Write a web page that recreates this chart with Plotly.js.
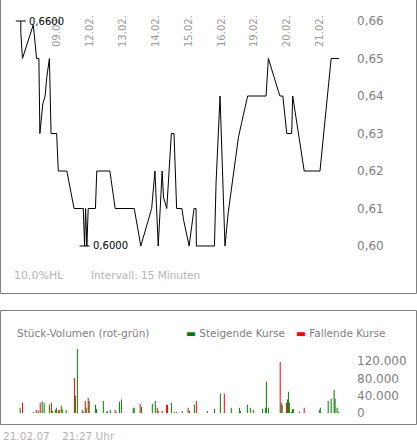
<!DOCTYPE html>
<html>
<head>
<meta charset="utf-8">
<script src="https://cdn.plot.ly/plotly-3.0.1.min.js"></script>
<style>
  html, body { margin: 0; padding: 0; background: #fff; }
  #chart { width: 417px; height: 443px; }
</style>
</head>
<body>
<div id="chart"></div>
<script>
// ---- data (x = trading day index, 0 = 08.02.) ----
const dayTicks = [1, 2, 3, 4, 5, 6, 7, 8, 9];
const dayLabels = ['09.02.', '12.02.', '13.02.', '14.02.', '15.02.', '16.02.', '19.02.', '20.02.', '21.02.'];

const priceT = [-0.10, -0.10, -0.05, 0.28, 0.38, 0.45, 0.48, 0.51, 0.57, 0.64, 0.69, 0.77, 0.79, 0.82, 0.99,
  1.04, 1.30, 1.52, 1.80, 1.84, 1.87, 1.91, 1.95, 2.17, 2.21, 2.61, 2.77, 3.35, 3.55, 3.88, 3.98, 4.08,
  4.20, 4.24, 4.34, 4.48, 4.56, 4.64, 4.80, 4.85, 5.02, 5.17, 5.23, 5.24, 5.79, 5.84, 5.96, 5.98, 6.06,
  6.11, 6.21, 6.36, 6.52, 6.62, 6.80, 7.36, 7.43, 7.78, 7.87, 7.99, 8.14, 8.17, 8.52, 9.00, 9.34, 9.58];
const priceV = [0.660, 0.657, 0.650, 0.659, 0.650, 0.650, 0.630, 0.633, 0.638, 0.640, 0.645, 0.650, 0.640, 0.630, 0.630,
  0.620, 0.620, 0.610, 0.610, 0.600, 0.610, 0.600, 0.610, 0.610, 0.620, 0.620, 0.610, 0.610, 0.600, 0.610, 0.620, 0.600,
  0.620, 0.613, 0.610, 0.630, 0.630, 0.610, 0.610, 0.607, 0.600, 0.610, 0.610, 0.600, 0.600, 0.617, 0.640, 0.635, 0.615,
  0.600, 0.609, 0.619, 0.629, 0.633, 0.640, 0.640, 0.650, 0.640, 0.640, 0.630, 0.630, 0.640, 0.620, 0.620, 0.650, 0.650];

const priceTicks = [0.60, 0.61, 0.62, 0.63, 0.64, 0.65, 0.66];

// rising (green) volume bars
const upT = [-0.12, 0.28, 0.43, 0.55, 0.61, 0.77, 0.86, 0.95, 0.98, 1.13, 1.16, 1.28, 1.56, 1.62, 1.77, 1.80,
  1.89, 1.98, 2.17, 2.20, 2.41, 2.50, 2.53, 2.62, 2.80, 2.90, 2.96, 3.32, 3.35, 3.57, 3.90, 3.99, 4.20, 4.48,
  4.57, 4.81, 5.03, 5.18, 5.57, 5.79, 5.97, 6.30, 6.55, 6.58, 6.79, 6.88, 6.97, 7.25, 7.34, 7.37, 7.43, 7.82,
  7.85, 8.01, 8.04, 8.07, 8.13, 8.16, 8.19, 8.98, 9.01, 9.25, 9.34, 9.43, 9.46, 9.52, 9.56];
const upVol = [12000, 2500, 5500, 27000, 23500, 19000, 4500, 7000, 12000, 16500, 9500, 7000, 40000, 148000, 7000, 2500,
  12000, 28000, 19000, 9500, 28000, 2500, 4500, 7000, 2500, 26000, 31000, 12000, 12000, 14000, 21000, 28000, 4500, 23500,
  2500, 4500, 4500, 19000, 4500, 9500, 45000, 12000, 12000, 4500, 19000, 12000, 7000, 9500, 12000, 73000, 12000, 23500,
  19000, 31000, 49000, 23500, 2500, 9500, 9500, 7000, 12000, 28000, 33000, 54000, 33000, 12000, 2500];

// falling (red) volume bars
const downT = [-0.05, 0.37, 0.49, 0.83, 1.04, 1.07, 1.53, 1.86, 1.95, 2.77, 3.53, 4.05, 4.08, 4.33, 4.36, 4.63,
  4.99, 5.24, 6.09, 7.79, 7.98, 8.37, 8.52];
const downVol = [23500, 7000, 23500, 23500, 7000, 7000, 81000, 28000, 35000, 7000, 21000, 12000, 4500, 19000, 19000, 2500,
  12000, 28000, 45000, 118000, 23500, 2500, 12000];

const volTicks = [0, 40000, 80000, 120000];

// ---- geometry helpers (pixel -> paper) ----
const W = 417, H = 443;
const px = x => x / W;
const py = y => 1 - y / H;

const FONT = 'DejaVu Sans, Verdana, sans-serif';
const dayWidth = 32.875; // px per trading day
const xRange = [(10 - 24.1) / dayWidth, (350 - 24.1) / dayWidth];

// high / low markers
const hi = Math.max(...priceV), lo = Math.min(...priceV);
const hiT = priceT[priceV.indexOf(hi)], loT = priceT[priceV.indexOf(lo)];
const tickHalf = 5 / dayWidth;

const traces = [
  {
    x: priceT, y: priceV, type: 'scatter', mode: 'lines',
    line: { color: '#000', width: 1 },
    xaxis: 'x', yaxis: 'y', hoverinfo: 'skip'
  },
  {
    x: upT, y: upVol, type: 'bar', name: 'Steigende Kurse',
    width: upT.map(() => 1 / dayWidth),
    marker: { color: '#008000', line: { width: 0 } },
    xaxis: 'x2', yaxis: 'y2', hoverinfo: 'skip'
  },
  {
    x: downT, y: downVol, type: 'bar', name: 'Fallende Kurse',
    width: downT.map(() => 1 / dayWidth),
    marker: { color: '#ff0000', line: { width: 0 } },
    xaxis: 'x2', yaxis: 'y2', hoverinfo: 'skip'
  }
];

const txt = (text, x, y, size, color, extra) => Object.assign({
  text: text, xref: 'paper', yref: 'paper', x: x, y: y,
  xanchor: 'left', yanchor: 'middle', showarrow: false, borderpad: 0,
  font: { family: FONT, size: size, color: color }
}, extra || {});

const layout = {
  width: W, height: H,
  margin: { l: 0, r: 0, t: 0, b: 0 },
  paper_bgcolor: '#fff', plot_bgcolor: 'rgba(0,0,0,0)',
  separators: ',.',
  showlegend: false,
  barmode: 'overlay',
  xaxis: {
    domain: [px(10), px(350)], range: xRange,
    anchor: 'free', position: py(47), side: 'top',
    tickvals: dayTicks, ticktext: dayLabels, tickangle: -90,
    ticks: '', showgrid: false, zeroline: false, showline: false,
    tickfont: { family: FONT, size: 10, color: '#999' }
  },
  yaxis: {
    domain: [py(265), py(5)], range: [0.59493, 0.66427],
    anchor: 'x', side: 'right',
    tickvals: priceTicks, tickformat: '.2f',
    ticks: '', showgrid: false, zeroline: false, showline: false,
    ticklabelstandoff: 6,
    tickfont: { family: FONT, size: 12, color: '#808080' }
  },
  xaxis2: {
    domain: [px(10), px(350)], range: xRange, anchor: 'y2',
    showticklabels: false, ticks: '', showgrid: false, zeroline: false, showline: false
  },
  yaxis2: {
    domain: [py(413), py(345)], range: [0, 157225],
    anchor: 'x2', side: 'right',
    tickvals: volTicks, tickformat: ',.0f',
    ticks: '', showgrid: false, zeroline: false, showline: false,
    ticklabelstandoff: 6,
    tickfont: { family: FONT, size: 12, color: '#808080' }
  },
  shapes: [
    // frames
    { type: 'line', xref: 'paper', yref: 'paper', x0: px(0.5), x1: px(0.5), y0: 1, y1: py(293.5), line: { color: '#808080', width: 1 } },
    { type: 'line', xref: 'paper', yref: 'paper', x0: px(416.5), x1: px(416.5), y0: 1, y1: py(293.5), line: { color: '#808080', width: 1 } },
    { type: 'line', xref: 'paper', yref: 'paper', x0: px(0.5), x1: px(416.5), y0: py(293.5), y1: py(293.5), line: { color: '#808080', width: 1 } },
    { type: 'rect', xref: 'paper', yref: 'paper', x0: px(0.5), x1: px(416.5), y0: py(424.5), y1: py(310.5), line: { color: '#808080', width: 1 } },
    // high / low ticks
    { type: 'line', xref: 'x', yref: 'y', x0: hiT - tickHalf, x1: hiT + tickHalf, y0: hi, y1: hi, line: { color: '#000', width: 1 } },
    { type: 'line', xref: 'x', yref: 'y', x0: loT - tickHalf, x1: loT + tickHalf, y0: lo, y1: lo, line: { color: '#000', width: 1 } }
  ],
  annotations: [
    { text: hi.toFixed(4).replace('.', ','), xref: 'x', yref: 'y', x: hiT, y: hi, xanchor: 'left', yanchor: 'middle',
      xshift: 7, showarrow: false, borderpad: 0, font: { family: FONT, size: 10, color: '#000' } },
    { text: lo.toFixed(4).replace('.', ','), xref: 'x', yref: 'y', x: loT, y: lo, xanchor: 'left', yanchor: 'middle',
      xshift: 7, showarrow: false, borderpad: 0, font: { family: FONT, size: 10, color: '#000' } },
    txt('10,0%HL', px(13), py(275), 11, '#b4b4b4'),
    txt('Intervall: 15 Minuten', px(90), py(275), 10.5, '#b4b4b4'),
    txt('Stück-Volumen (rot-grün)', px(16), py(333), 10.5, '#808080'),
    txt('<span style="color:#008000">▬</span> Steigende Kurse', px(185), py(333), 10.5, '#808080'),
    txt('<span style="color:#ff0000">▬</span> Fallende Kurse', px(295), py(333), 10.5, '#808080'),
    txt('21.02.07', px(2), py(436), 10.5, '#b4b4b4'),
    txt('21:27 Uhr', px(61), py(436), 10.5, '#b4b4b4')
  ]
};

Plotly.newPlot('chart', traces, layout, { staticPlot: true, displayModeBar: false });
</script>
</body>
</html>
